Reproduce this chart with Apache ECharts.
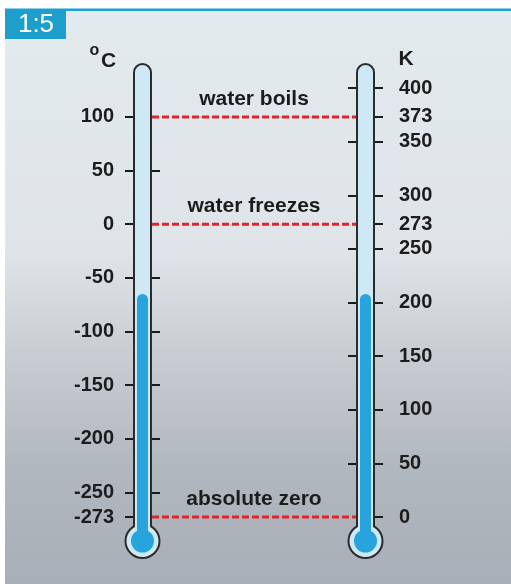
<!DOCTYPE html>
<html><head><meta charset="utf-8">
<script src="https://cdn.jsdelivr.net/npm/echarts@6/dist/echarts.min.js"></script>
<style>html,body{margin:0;padding:0;background:#fff}#c{width:511px;height:584px}</style>
</head><body><div id="c"></div>
<script>
// ---- data ----
const celsiusLabels = [100, 50, 0, -50, -100, -150, -200, -250, -273];
const celsiusInnerTicks = [50, -50, -100, -150, -200, -250];
const kelvinLabels = [400, 373, 350, 300, 273, 250, 200, 150, 100, 50, 0];
const kelvinInnerTicks = [400, 350, 300, 250, 200, 150, 100, 50];
const markerNames = ['water boils', 'water freezes', 'absolute zero'];
const markerCelsius = [100, 0, -273];
const readingCelsius = [-65];
const readingKelvin = [208];
const celsiusRange = [-273, 127];
const kelvinRange = [0, 400];
const scaleLabel = '1:5';

const FONT = '"Liberation Sans", Arial, sans-serif';
const TEXT = '#1c1c1c';
const TUBE_FILL = '#cfe8f6';
const OUTLINE = '#2b2b2b';
const MERCURY = '#27a3de';
const TUBE_W = 19;

const chart = echarts.init(document.getElementById('c'), null, {renderer: 'canvas'});

function thermo(side) {
  return function (params, api) {
    const cs = params.coordSys;
    const p = api.coord([api.value(0), api.value(1)]);
    const half = TUBE_W / 2;
    const cx = side === 'left' ? cs.x + half : cs.x + cs.width - half;
    const topY = cs.y - 24;
    const cy = cs.y + cs.height + 24;
    const hw = half - 1;
    return {
      type: 'group',
      children: [
        {type: 'rect', shape: {x: cx - hw, y: topY, width: hw * 2, height: cy - topY, r: [hw, hw, 0, 0]},
          style: {fill: TUBE_FILL, stroke: OUTLINE, lineWidth: 2}},
        {type: 'circle', shape: {cx: cx, cy: cy, r: 17}, style: {fill: TUBE_FILL, stroke: OUTLINE, lineWidth: 2}},
        {type: 'rect', shape: {x: cx - hw + 1, y: cy - 20, width: hw * 2 - 2, height: 7}, style: {fill: TUBE_FILL}},
        {type: 'rect', shape: {x: cx - 5.5, y: p[1], width: 11, height: cy - p[1], r: [5.5, 5.5, 0, 0]}, style: {fill: MERCURY}},
        {type: 'circle', shape: {cx: cx, cy: cy, r: 11.5}, style: {fill: MERCURY}}
      ]
    };
  };
}

function markers(params, api) {
  const cs = params.coordSys;
  const y = api.coord([0, api.value(1)])[1];
  const x1 = cs.x + TUBE_W, x2 = cs.x + cs.width - TUBE_W;
  return {
    type: 'group',
    children: [
      {type: 'line', shape: {x1: x1, y1: y, x2: x2, y2: y},
        style: {stroke: '#e3222c', lineWidth: 3, lineDash: [7, 3]}},
      {type: 'text', style: {text: markerNames[params.dataIndex], x: (x1 + x2) / 2, y: y - 18,
        align: 'center', verticalAlign: 'middle', fill: TEXT, font: 'bold 21px ' + FONT}}
    ]
  };
}

const labelStyle = {fontFamily: FONT, fontSize: 20, fontWeight: 'bold', color: TEXT};
const tickLine = {color: '#1a1a1a', width: 2};

const option = {
  animation: false,
  backgroundColor: '#ffffff',
  grid: {left: 133, right: 136, top: 88, bottom: 67, containLabel: false, outerBoundsMode: 'none'},
  xAxis: {type: 'value', min: 0, max: 1, show: false},
  yAxis: [
    {type: 'value', min: celsiusRange[0], max: celsiusRange[1], position: 'left', offset: 0,
      axisLine: {show: false}, splitLine: {show: false},
      axisTick: {show: true, length: 8, lineStyle: tickLine, customValues: celsiusLabels},
      axisLabel: Object.assign({show: true, margin: 19, customValues: celsiusLabels}, labelStyle)},
    {type: 'value', min: celsiusRange[0], max: celsiusRange[1], position: 'left', offset: -TUBE_W,
      axisLine: {show: false}, splitLine: {show: false},
      axisTick: {show: true, inside: true, length: 8, lineStyle: tickLine, customValues: celsiusInnerTicks},
      axisLabel: {show: false}},
    {type: 'value', min: kelvinRange[0], max: kelvinRange[1], position: 'right', offset: 0,
      axisLine: {show: false}, splitLine: {show: false},
      axisTick: {show: true, length: 8, lineStyle: tickLine, customValues: kelvinLabels},
      axisLabel: Object.assign({show: true, margin: 24, customValues: kelvinLabels}, labelStyle)},
    {type: 'value', min: kelvinRange[0], max: kelvinRange[1], position: 'right', offset: -TUBE_W,
      axisLine: {show: false}, splitLine: {show: false},
      axisTick: {show: true, inside: true, length: 8, lineStyle: tickLine, customValues: kelvinInnerTicks},
      axisLabel: {show: false}}
  ],
  graphic: {elements: [
    {type: 'rect', z: -10, shape: {x: 5, y: 10, width: 506, height: 574},
      style: {fill: new echarts.graphic.LinearGradient(0, 0, 0, 1, [
        {offset: 0, color: '#e3eaee'},
        {offset: 0.42, color: '#dee4e8'},
        {offset: 0.6, color: '#c8cdd2'},
        {offset: 0.8, color: '#b1b7be'},
        {offset: 1, color: '#a8afb8'}
      ])}},
    {type: 'rect', z: -9, shape: {x: 5, y: 8.5, width: 506, height: 2.5}, style: {fill: '#1aa2cf'}},
    {type: 'rect', z: -9, shape: {x: 5, y: 10, width: 61, height: 29}, style: {fill: '#1d9ecb'}},
    {type: 'text', z: -8, style: {text: scaleLabel, x: 36, y: 25, align: 'center', verticalAlign: 'middle',
      fill: '#ffffff', font: '26px ' + FONT}},
    {type: 'text', style: {text: 'o', x: 94.5, y: 51, align: 'center', verticalAlign: 'middle',
      fill: TEXT, font: 'bold 16px ' + FONT}},
    {type: 'text', style: {text: 'C', x: 108.5, y: 61, align: 'center', verticalAlign: 'middle',
      fill: TEXT, font: 'bold 21px ' + FONT}},
    {type: 'text', style: {text: 'K', x: 406, y: 59.5, align: 'center', verticalAlign: 'middle',
      fill: TEXT, font: 'bold 21px ' + FONT}}
  ]},
  series: [
    {type: 'custom', name: 'markers', yAxisIndex: 0, renderItem: markers, z: 3,
      data: markerCelsius.map(function (c) { return [0, c]; })},
    {type: 'custom', name: 'celsius', yAxisIndex: 0, renderItem: thermo('left'), z: 2,
      data: readingCelsius.map(function (c) { return [0, c]; })},
    {type: 'custom', name: 'kelvin', yAxisIndex: 2, renderItem: thermo('right'), z: 2,
      data: readingKelvin.map(function (k) { return [1, k]; })}
  ]
};
chart.setOption(option);
</script></body></html>
